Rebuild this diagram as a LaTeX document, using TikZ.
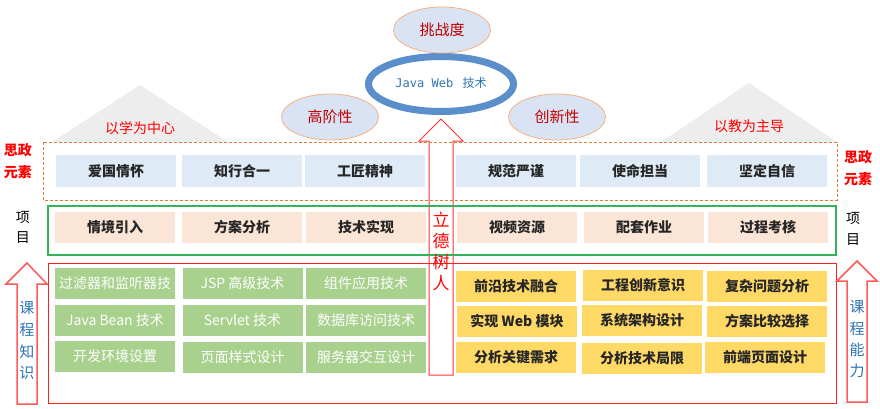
\documentclass[tikz,border=0pt]{standalone}
\usepackage{fontspec}
\setmainfont{Noto Sans CJK SC}
\newfontfamily\cjk{Noto Sans CJK SC}
\newfontfamily\monof{DejaVu Sans Mono}
\usetikzlibrary{shapes.geometric}
\definecolor{bluefill}{HTML}{DEEBF7}
\definecolor{peachfill}{HTML}{FBE5D6}
\definecolor{greenfill}{HTML}{A9D18E}
\definecolor{yellowfill}{HTML}{FFD966}
\definecolor{ellfill}{HTML}{DAE3F3}
\definecolor{ellborder}{HTML}{F4B183}
\definecolor{dashcol}{HTML}{E07B39}
\definecolor{framegreen}{HTML}{33B35A}
\definecolor{framered}{HTML}{FF2020}
\definecolor{arrowred}{HTML}{FF5A5A}
\definecolor{trigray}{HTML}{EDEDED}
\definecolor{darkred}{HTML}{C00000}
\definecolor{ringblue}{HTML}{5B8FCB}
\definecolor{textblue}{HTML}{2E75B6}
\tikzset{
  boxbase/.style={rectangle, minimum width=120pt, minimum height=31pt, inner sep=0pt, font=\fontsize{14}{14}\selectfont\bfseries},
  bluebox/.style={boxbase, fill=bluefill, minimum height=32pt, text=black!85},
  peachbox/.style={boxbase, fill=peachfill, text=black!85},
  greenbox/.style={boxbase, fill=greenfill, text=white, font=\fontsize{14}{14}\selectfont},
  yellowbox/.style={boxbase, fill=yellowfill, text=black!85},
  feature/.style={ellipse, fill=ellfill, draw=ellborder, line width=0.8pt, minimum width=97pt, minimum height=46pt, inner sep=0pt, text=darkred, font=\fontsize{15}{15}\selectfont},
  sidelabel/.style={font=\fontsize{14}{14}\selectfont\bfseries, text=red, align=center},
  itemlabel/.style={font=\fontsize{14}{14}\selectfont, text=black, align=center},
  vlabel/.style={font=\fontsize{15}{15}\selectfont, text=textblue},
  blockarrow/.style={draw=arrowred, line width=1.5pt, fill=white},
  trilabel/.style={font=\fontsize{14}{14}\selectfont, text=red},
}
\begin{document}
\begin{tikzpicture}[x=1pt,y=-1pt]
\useasboundingbox (0,0) rectangle (880,409);
% gray triangles
\fill[trigray] (52,142) -- (140,85) -- (228,142) -- cycle;
\fill[trigray] (661,142) -- (749,83) -- (837,142) -- cycle;
\node[trilabel] (lxw) at (140,128) {以学为中心};
\node[trilabel] (yjw) at (749,126) {以教为主导};
% central arrow
\draw[draw=red!80, line width=1pt, fill=white] (429,375) -- (429,141) -- (419,141) -- (441,119) -- (463,141) -- (453,141) -- (453,375) -- cycle;
% frames
\draw[dashcol, line width=1pt, dash pattern=on 3pt off 2pt] (43,142) rectangle (837,200);
\draw[framegreen, line width=1.2pt] (48,206) rectangle (836,255);
\draw[framered, line width=1pt] (48,263) rectangle (836,403);
% center arrow text
\node[text=red, font=\fontsize{17}{17}\selectfont] (li) at (441,220) {立};
\node[text=red, font=\fontsize{17}{17}\selectfont] (de) at (441,241) {德};
\node[text=red, font=\fontsize{17}{17}\selectfont] (shu) at (441,262) {树};
\node[text=red, font=\fontsize{17}{17}\selectfont] (ren) at (441,283) {人};
% ellipses
\node[ellipse, draw=ringblue, line width=7pt, fill=white, minimum width=145pt, minimum height=55pt, inner sep=0pt] (jw) at (441,84) {};
\node[text=textblue, font=\fontsize{12}{12}\selectfont] (jwt) at (441,83) {\monof Java Web \cjk\,技术};
\node[feature] (tzd) at (442,30) {挑战度};
\node[feature] (gjx) at (330,117) {高阶性};
\node[feature] (cxx) at (557,117) {创新性};
% side labels
\node[sidelabel] (szl1) at (18,150) {思政};
\node[sidelabel] (szl2) at (18,172) {元素};
\node[sidelabel] (szr1) at (858,157) {思政};
\node[sidelabel] (szr2) at (858,179) {元素};
\node[itemlabel] (xml1) at (23,217) {项};
\node[itemlabel] (xml2) at (23,238) {目};
\node[itemlabel] (xmr1) at (853,218) {项};
\node[itemlabel] (xmr2) at (853,240) {目};
% row 1
\node[bluebox] (a1) at (116,171) {爱国情怀};
\node[bluebox] (a2) at (242,171) {知行合一};
\node[bluebox] (a3) at (365,171) {工匠精神};
\node[bluebox] (a4) at (516,171) {规范严谨};
\node[bluebox] (a5) at (640,171) {使命担当};
\node[bluebox] (a6) at (767,171) {坚定自信};
% row 2
\node[peachbox] (b1) at (115,227.5) {情境引入};
\node[peachbox] (b2) at (242,227.5) {方案分析};
\node[peachbox] (b3) at (366,227.5) {技术实现};
\node[peachbox] (b4) at (517,227.5) {视频资源};
\node[peachbox] (b5) at (644,227.5) {配套作业};
\node[peachbox] (b6) at (768,227.5) {过程考核};
% green boxes
\node[greenbox] (g1) at (115,283.5) {过滤器和监听器技};
\node[greenbox] (g2) at (242.5,283.5) {JSP 高级技术};
\node[greenbox] (g3) at (366,283.5) {组件应用技术};
\node[greenbox] (g4) at (115,320.5) {Java Bean 技术};
\node[greenbox] (g5) at (242.5,320.5) {Servlet 技术};
\node[greenbox] (g6) at (366,320.5) {数据库访问技术};
\node[greenbox] (g7) at (115,356) {开发环境设置};
\node[greenbox] (g8) at (242.5,357) {页面样式设计};
\node[greenbox] (g9) at (366,357) {服务器交互设计};
% yellow boxes
\node[yellowbox] (y1) at (516,286) {前沿技术融合};
\node[yellowbox] (y2) at (643,285) {工程创新意识};
\node[yellowbox] (y3) at (767,286) {复杂问题分析};
\node[yellowbox] (y4) at (517,321) {实现 Web 模块};
\node[yellowbox] (y5) at (642,320) {系统架构设计};
\node[yellowbox] (y6) at (767,321) {方案比较选择};
\node[yellowbox] (y7) at (516,357) {分析关键需求};
\node[yellowbox] (y8) at (642,358) {分析技术局限};
\node[yellowbox] (y9) at (765,357) {前端页面设计};
% side block arrows
\draw[blockarrow] (17,404) -- (17,284) -- (6,284) -- (27,263) -- (47,284) -- (37,284) -- (37,404) -- cycle;
\draw[blockarrow] (847,402) -- (847,281) -- (837,281) -- (857,261) -- (877,281) -- (867,281) -- (867,402) -- cycle;
\node[vlabel] (k1) at (27,308) {课};
\node[vlabel] (k2) at (27,330) {程};
\node[vlabel] (k3) at (27,352) {知};
\node[vlabel] (k4) at (27,373) {识};
\node[vlabel] (n1) at (857,307) {课};
\node[vlabel] (n2) at (857,329) {程};
\node[vlabel] (n3) at (857,350) {能};
\node[vlabel] (n4) at (857,371) {力};
\end{tikzpicture}
\end{document}
